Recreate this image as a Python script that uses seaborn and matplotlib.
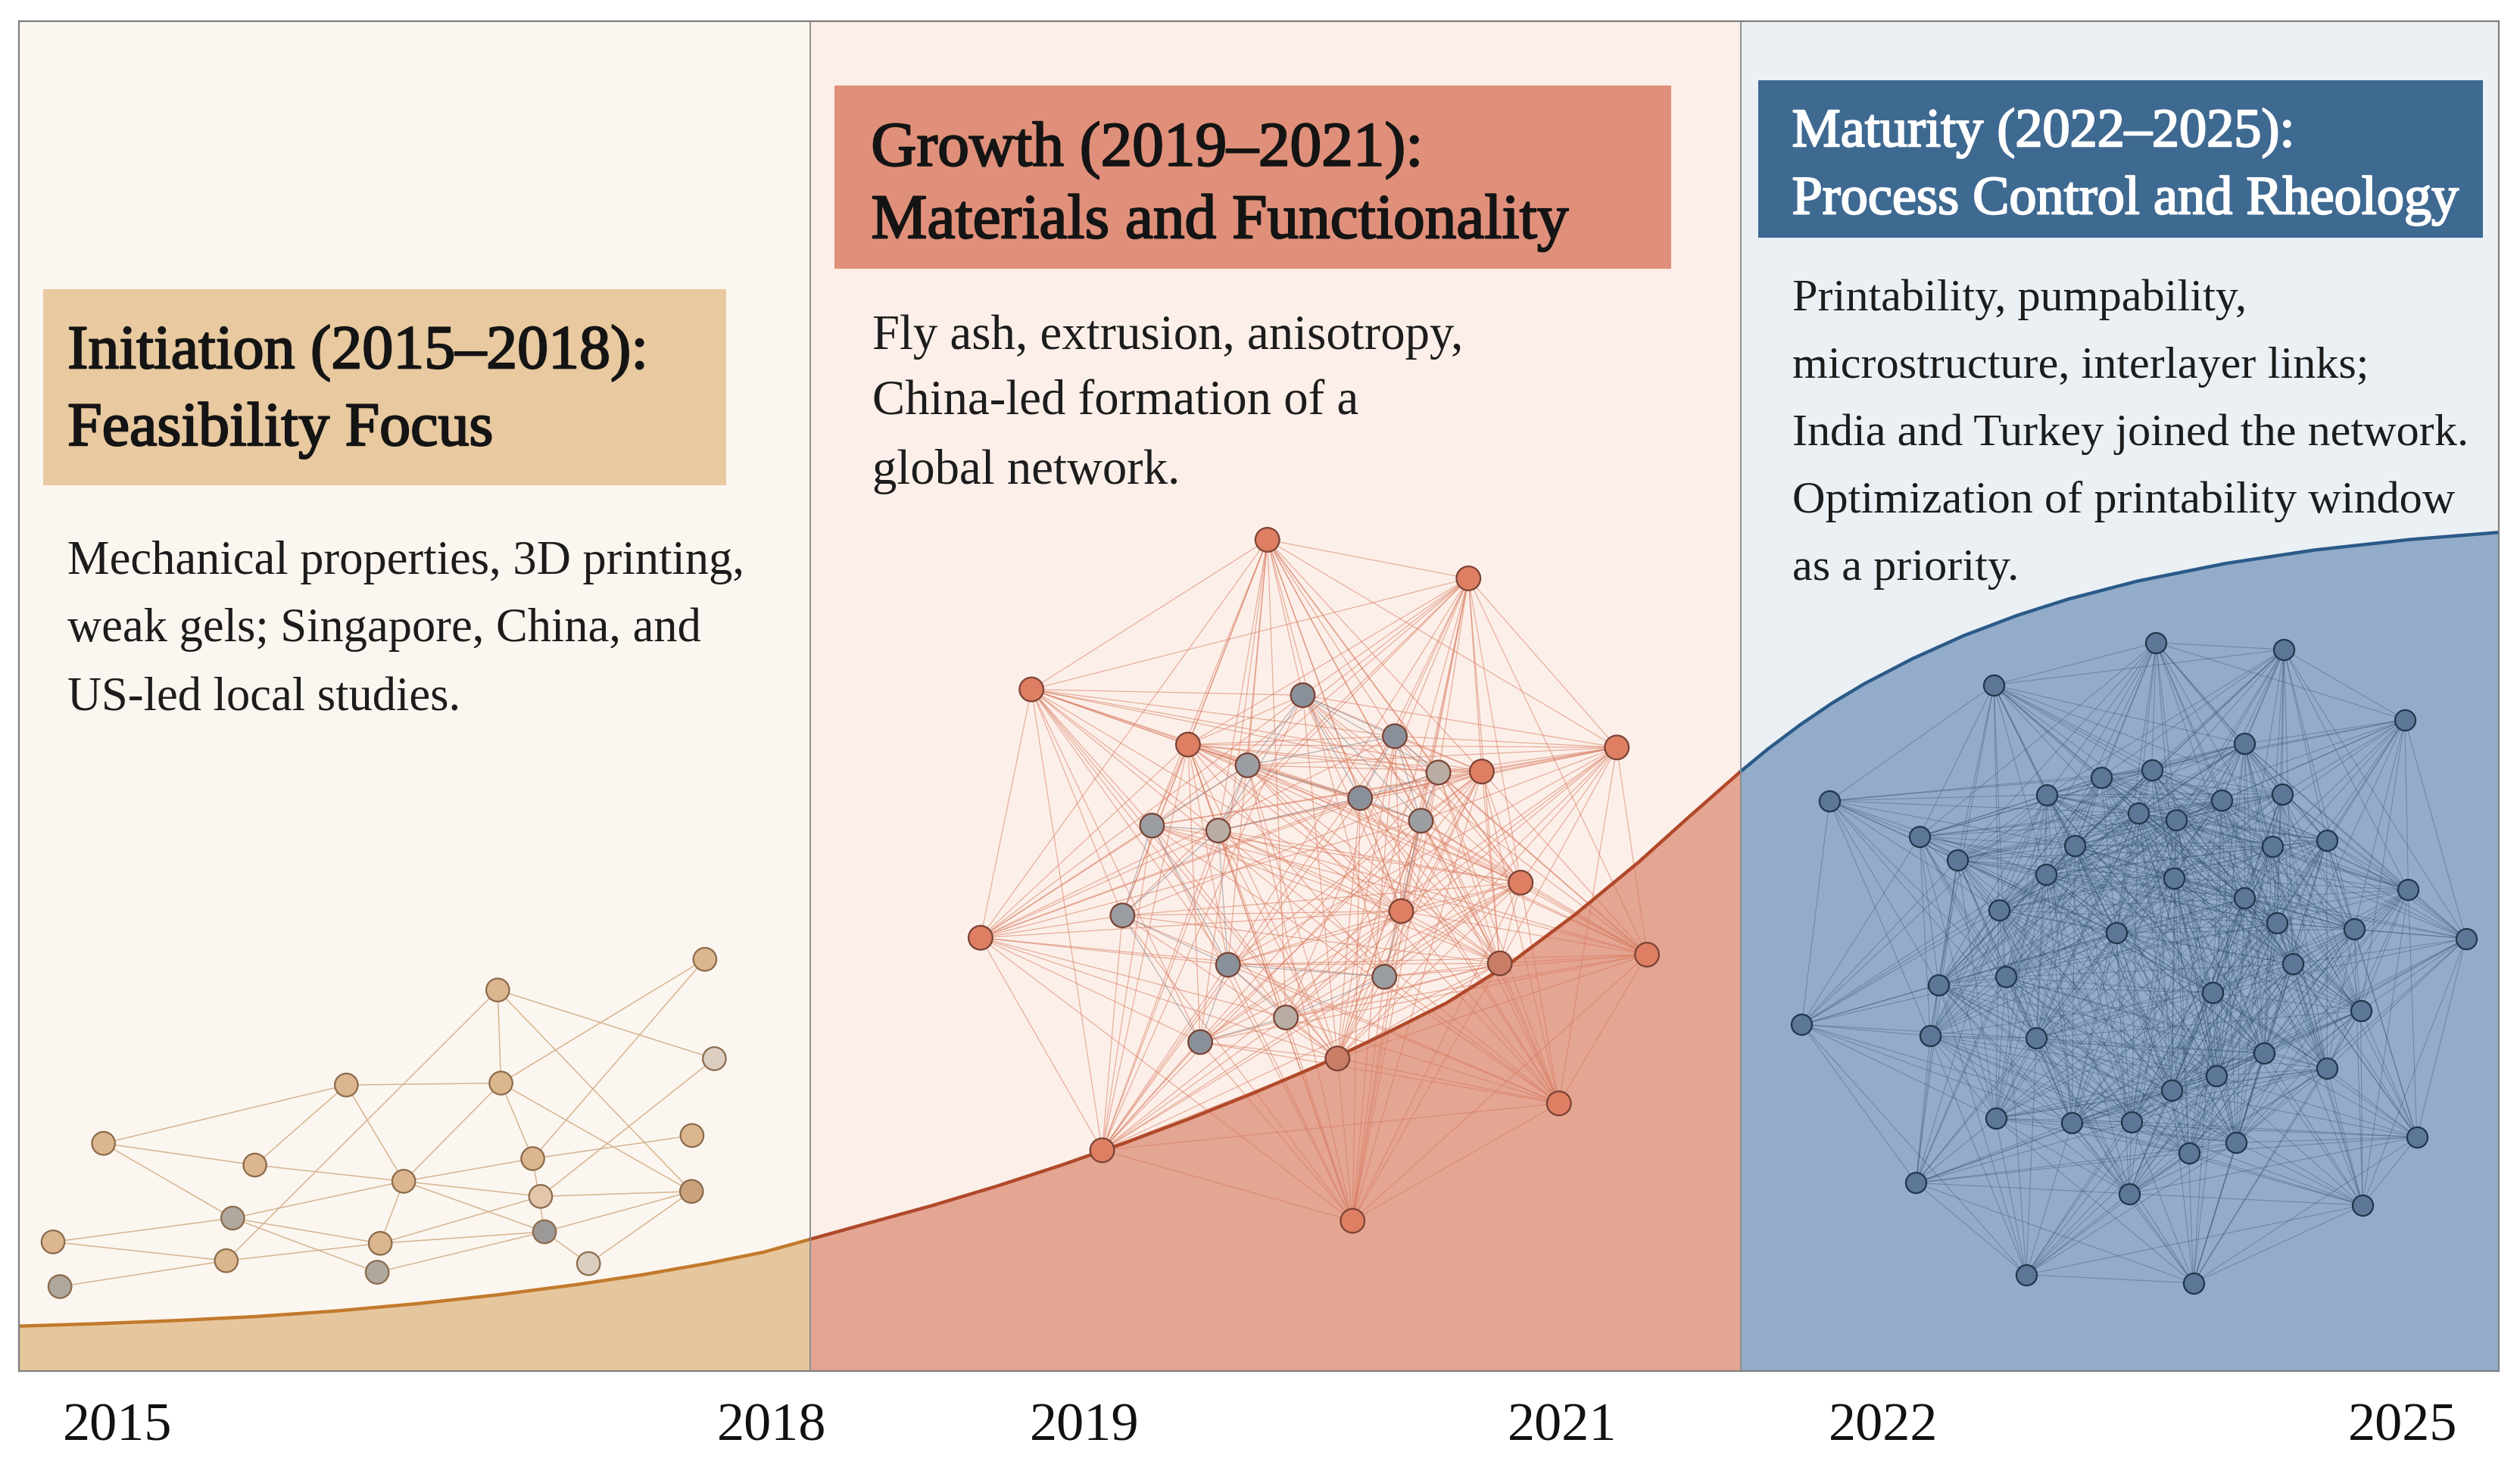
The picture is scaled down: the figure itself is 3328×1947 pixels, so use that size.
import numpy as np
import pandas as pd
import matplotlib
matplotlib.use("Agg")
import matplotlib.pyplot as plt
import matplotlib.patheffects as pe
from matplotlib.patches import Rectangle
from matplotlib.collections import LineCollection
import seaborn as sns

# ======================================
# Data (canvas grid: x to the right, y downwards)
# ======================================

YEAR_LABELS = ["2015", "2018", "2019", "2021", "2022", "2025"]
YEAR_POS = [73, 480, 675, 972, 1172, 1495]

PHASE_BOUNDS = [12, 504, 1083, 1555]

# growth curve, one piece per phase
curve1_x = [12, 60, 110, 160, 210, 260, 310, 360, 400, 440, 475, 504]
curve1_y = [825, 823.5, 821.5, 819, 815.5, 811, 805.5, 799, 793, 786, 779, 771]
curve2_x = [504, 540, 580, 620, 660, 700, 740, 780, 820, 860, 900, 940, 980,
            1020, 1050, 1083]
curve2_y = [771, 761, 750, 738, 725, 711, 696, 680, 663, 644, 624, 599, 569,
            536, 509, 480]
curve3_x = [1083, 1100, 1120, 1140, 1160, 1190, 1222, 1255, 1287, 1330, 1385,
            1440, 1500, 1555]
curve3_y = [480, 466, 451, 437.4, 425.4, 409.8, 395.4, 382.9, 372.7, 361.5,
            350.5, 342.2, 335.6, 331.2]

# phase 1 network (sparse, local studies)
net1_x = [438.6, 309.7, 444.5, 215.5, 311.7, 64.4, 158.6, 430.6, 331.5, 251.2,
          336.4, 430.3, 144.8, 33.0, 236.6, 338.8, 140.8, 234.7, 366.2, 37.3]
net1_y = [596.8, 615.9, 658.6, 675.0, 673.8, 711.3, 724.8, 706.4, 720.8, 734.9,
          744.3, 741.2, 757.8, 772.6, 773.5, 766.3, 784.3, 791.5, 786.1, 800.4]
net1_tone = ["t", "t", "p", "t", "t", "t", "t", "t", "t", "t",
             "l", "d", "g", "t", "t", "k", "t", "g", "p", "g"]
net1_links = [(5, 3), (5, 6), (5, 12), (3, 4), (3, 6), (3, 9), (1, 4), (1, 2),
              (1, 11), (1, 16), (0, 4), (0, 8), (4, 9), (4, 8), (4, 11), (2, 10),
              (6, 9), (9, 10), (9, 8), (9, 14), (9, 15), (9, 12), (8, 7), (8, 15),
              (10, 11), (10, 14), (11, 15), (11, 18), (15, 18), (15, 17), (15, 14),
              (13, 12), (13, 16), (19, 16), (16, 14), (12, 17), (12, 14)]

# phase 2 network (China-led global network)
net2_x = [788.6, 913.7, 641.8, 739.2, 922.0, 1006.0, 946.2, 871.9, 610.1, 1024.8,
          933.2, 832.2, 970.0, 685.8, 841.6,
          810.6, 867.9, 776.3, 895.0, 846.3, 884.1, 716.8, 758.0, 698.4, 764.1,
          861.4, 800.1, 746.8]
net2_y = [335.8, 359.8, 428.9, 463.2, 480.0, 465.0, 549.1, 566.8, 583.4, 593.9,
          599.3, 658.5, 686.4, 715.6, 759.5,
          432.5, 458.0, 476.1, 480.6, 496.5, 510.6, 513.6, 516.7, 569.5, 600.2,
          607.7, 633.0, 648.3]
net2_tone = ["s"] * 10 + ["S", "S", "s", "s", "s",
             "g", "g", "m", "l", "g", "m", "m", "l", "m", "g", "m", "l", "g"]
net2_reach = 320
net2_grey_reach = 110

# phase 3 network (mature, dense collaboration)
net3_x = [1341.6, 1421.1, 1240.6, 1496.3, 1396.5, 1138.3, 1307.3, 1338.8, 1273.6, 1382.2,
          1419.9, 1330.4, 1354.1, 1194.4, 1447.7, 1218.1, 1291.1, 1413.7, 1273.0, 1352.9,
          1498.5, 1396.5, 1243.7, 1416.8, 1464.8, 1316.7, 1534.4, 1426.8, 1248.0, 1206.3,
          1376.6, 1468.9, 1121.1, 1201.0, 1267.1, 1408.7, 1448.0, 1379.0, 1351.3, 1241.8,
          1289.2, 1326.3, 1391.5, 1361.9, 1503.8, 1192.2, 1324.8, 1470.1, 1260.8, 1364.7]
net3_y = [399.8, 404.1, 426.1, 447.7, 462.7, 498.2, 483.5, 479.2, 494.4, 497.9,
          493.9, 506.0, 510.3, 520.4, 522.7, 534.8, 526.2, 526.5, 544.1, 546.4,
          553.6, 558.8, 566.0, 574.1, 578.1, 580.4, 583.9, 599.7, 607.8, 612.7,
          617.6, 628.6, 637.3, 644.5, 645.9, 655.1, 664.7, 669.3, 678.2, 695.8,
          698.4, 697.8, 710.8, 717.2, 707.4, 735.9, 742.6, 749.8, 793.0, 798.2]
net3_reach = 215

PHASE_TITLES = [
    ["Initiation (2015\u20132018):", "Feasibility Focus"],
    ["Growth (2019\u20132021):", "Materials and Functionality"],
    ["Maturity (2022\u20132025):", "Process Control and Rheology"],
]
PHASE_NOTES = [
    ["Mechanical properties, 3D printing,",
     "weak gels; Singapore, China, and",
     "US-led local studies."],
    ["Fly ash, extrusion, anisotropy,",
     "China-led formation of a",
     "global network."],
    ["Printability, pumpability,",
     "microstructure, interlayer links;",
     "India and Turkey joined the network.",
     "Optimization of printability window",
     "as a priority."],
]

# ======================================
# Style
# ======================================

sns.set_theme(style="white")
plt.rcParams["font.family"] = ["Liberation Serif", "DejaVu Serif"]

BG_COLORS = ["#fcf6f0", "#fcefe9", "#ebf0f5"]
FILL_COLORS = ["#e6c69d", "#e4a592", "#92acca"]
LINE_COLORS = ["#c27a2c", "#b0492a", "#2b5a88"]
BOX_COLORS = ["#e8c9a0", "#e0907a", "#3e6991"]
TITLE_COLORS = ["#141414", "#141414", "#ffffff"]

TONES1 = {"t": "#dcb68e", "l": "#e2c7ad", "d": "#c9a27c", "p": "#dccfc2",
          "g": "#b0a89f", "k": "#9c9a98"}
TONES2 = {"s": "#de7e62", "S": "#c97c66", "g": "#8a9099", "m": "#9a9da2",
          "l": "#b8aca3"}

fig = plt.figure(figsize=(3328 / 200, 1947 / 200), dpi=200)
fig.patch.set_facecolor("white")
ax = fig.add_axes([12 / 1568, 64 / 917, 1543 / 1568, 840 / 917])

ax.set_xlim(PHASE_BOUNDS[0], PHASE_BOUNDS[-1])
ax.set_ylim(853, 13)

# phase backgrounds
for i in range(3):
    ax.axvspan(PHASE_BOUNDS[i], PHASE_BOUNDS[i + 1], color=BG_COLORS[i],
               lw=0, zorder=0)

# growth curve and area
curves = [(curve1_x, curve1_y), (curve2_x, curve2_y), (curve3_x, curve3_y)]
for i, (cx, cy) in enumerate(curves):
    ax.fill_between(cx, cy, 853, color=FILL_COLORS[i], lw=0, zorder=1)
    sns.lineplot(x=cx, y=cy, sort=False, color=LINE_COLORS[i], lw=1.6,
                 ax=ax, zorder=4)

for xb in PHASE_BOUNDS[1:-1]:
    ax.axvline(xb, color="#8f8f8f", lw=0.7, zorder=4.5)


def draw_links(xs, ys, pairs, colors, lw, alpha):
    segs = [[(xs[a], ys[a]), (xs[b], ys[b])] for a, b in pairs]
    lc = LineCollection(segs, colors=colors, linewidths=lw, alpha=alpha,
                        zorder=3)
    ax.add_collection(lc)


def close_pairs(xs, ys, reach):
    pairs = []
    for a in range(len(xs)):
        for b in range(a + 1, len(xs)):
            if np.hypot(xs[a] - xs[b], ys[a] - ys[b]) < reach:
                pairs.append((a, b))
    return pairs


# network 1
draw_links(net1_x, net1_y, net1_links, "#d2ae88", 0.55, 0.9)
df1 = pd.DataFrame({"x": net1_x, "y": net1_y, "tone": net1_tone})
sns.scatterplot(data=df1, x="x", y="y", hue="tone", palette=TONES1, s=120,
                edgecolor="#8a6b4c", linewidth=0.8, legend=False, ax=ax,
                zorder=5)

# network 2: salmon links fan out, grey core links stay short
grey = set(["g", "m", "l"])
pairs2, cols2 = [], []
for a, b in close_pairs(net2_x, net2_y, net2_reach):
    if net2_tone[a] in grey and net2_tone[b] in grey:
        if np.hypot(net2_x[a] - net2_x[b], net2_y[a] - net2_y[b]) < net2_grey_reach:
            pairs2.append((a, b))
            cols2.append("#7d838c")
    else:
        pairs2.append((a, b))
        cols2.append("#d8785c")
draw_links(net2_x, net2_y, pairs2, cols2, 0.45, 0.55)
df2 = pd.DataFrame({"x": net2_x, "y": net2_y, "tone": net2_tone})
sns.scatterplot(data=df2, x="x", y="y", hue="tone", palette=TONES2, s=130,
                edgecolor="#7a4334", linewidth=0.8, legend=False, ax=ax,
                zorder=5)

# network 3
pairs3 = close_pairs(net3_x, net3_y, net3_reach)
draw_links(net3_x, net3_y, pairs3, "#2f4a66", 0.4, 0.36)
sns.scatterplot(x=net3_x, y=net3_y, color="#5d7896", s=95,
                edgecolor="#22364c", linewidth=0.8, legend=False, ax=ax,
                zorder=5)

# ======================================
# Text blocks
# ======================================

boxes = [(27, 180, 452, 302), (519, 53, 1040, 167), (1094, 50, 1545, 148)]
title_x = [42, 542, 1115]
title_base = [[229, 277], [103, 148], [91, 133]]
title_size = [29.5, 30.0, 26.0]
note_x = [42, 543, 1115]
note_base = [[357, 399, 442], [217, 258, 301], [193, 235, 277, 319, 361]]
note_size = [22.5, 23.3, 21.7]

for i in range(3):
    x0, y0, x1, y1 = boxes[i]
    ax.add_patch(Rectangle((x0, y0), x1 - x0, y1 - y0, facecolor=BOX_COLORS[i],
                           edgecolor="none", zorder=6))
    for line, yb in zip(PHASE_TITLES[i], title_base[i]):
        ax.text(title_x[i], yb, line, fontsize=title_size[i],
                color=TITLE_COLORS[i], va="baseline", ha="left", zorder=7,
                path_effects=[pe.withStroke(linewidth=0.8,
                                            foreground=TITLE_COLORS[i])])
    for line, yb in zip(PHASE_NOTES[i], note_base[i]):
        ax.text(note_x[i], yb, line, fontsize=note_size[i], color="#1c1c1c",
                va="baseline", ha="left", zorder=7)

# ======================================
# Axes
# ======================================

ax.set_xticks(YEAR_POS)
ax.set_xticklabels(YEAR_LABELS, fontsize=26, color="#111111")
ax.tick_params(axis="x", length=0, pad=15)
ax.set_yticks([])
ax.set_xlabel("")
ax.set_ylabel("")
for sp in ax.spines.values():
    sp.set_visible(True)
    sp.set_color("#7f7f7f")
    sp.set_linewidth(0.8)
    sp.set_zorder(8)

ax.set_xlim(PHASE_BOUNDS[0], PHASE_BOUNDS[-1])
ax.set_ylim(853, 13)

fig.savefig("out.png", dpi=200, facecolor="white")
plt.close(fig)
